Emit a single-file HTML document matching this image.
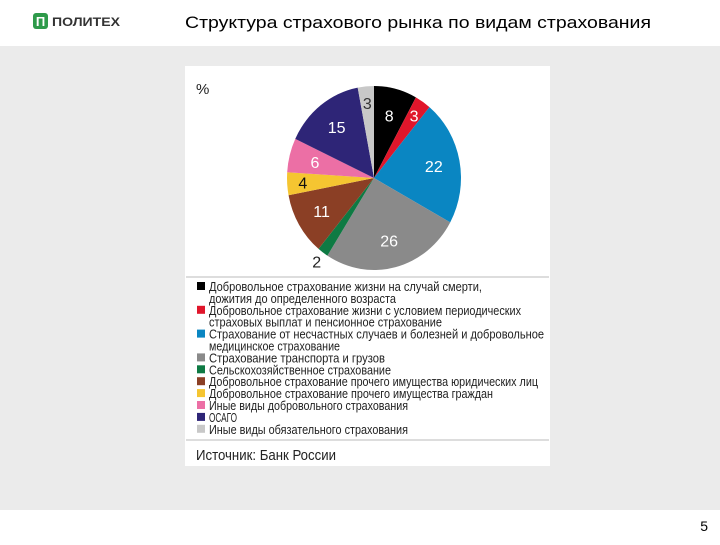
<!DOCTYPE html>
<html><head><meta charset="utf-8"><style>
body{margin:0;width:720px;height:540px;overflow:hidden;background:#fff;font-family:"Liberation Sans",sans-serif}
</style></head><body>
<svg width="720" height="540" xmlns="http://www.w3.org/2000/svg">
<rect x="0" y="0" width="720" height="540" fill="#fff"/>
<rect x="0" y="46" width="720" height="464" fill="#ebebeb"/>
<g>
<rect x="33" y="13" width="15" height="16" rx="3" fill="#2e9a4a"/>
<text x="40.5" y="26" font-size="13" font-weight="bold" fill="#fff" text-anchor="middle">П</text>
<text x="52" y="26" font-size="12" font-weight="bold" fill="#333" textLength="68" lengthAdjust="spacingAndGlyphs">ПОЛИТЕХ</text>
</g>
<text x="185" y="28" font-size="17" fill="#000" textLength="466" lengthAdjust="spacingAndGlyphs">Структура страхового рынка по видам страхования</text>
<text x="708" y="531" font-size="14" fill="#000" text-anchor="end">5</text>
<rect x="185" y="66" width="365" height="400" fill="#fff"/>
<line x1="186" y1="277" x2="549" y2="277" stroke="#ddd" stroke-width="2"/>
<line x1="186" y1="440" x2="549" y2="440" stroke="#ddd" stroke-width="2"/>
<text x="196" y="94" font-size="15" fill="#222">%</text>
<g id="pie"></g>
<g id="legend"></g>
<text x="196" y="460" font-size="15" fill="#222" textLength="140" lengthAdjust="spacingAndGlyphs">Источник: Банк России</text>
</svg>
<script>
const categories=["Добровольное страхование жизни на случай смерти, дожития","Добровольное страхование жизни с условием периодических выплат","Страхование от несчастных случаев и болезней и ДМС","Страхование транспорта и грузов","Сельскохозяйственное страхование","Добровольное страхование имущества юрлиц","Добровольное страхование имущества граждан","Иные виды добровольного страхования","ОСАГО","Иные виды обязательного страхования"];
const values=[8,3,22,26,2,11,4,6,15,3];
const colors=["#000000","#e0162b","#0a86c2","#8a8a8a","#0e7a43","#8b3f25","#f5c531","#ec6fa5","#2e2577","#c8c8c8"];
const labelColors=["#fff","#fff","#fff","#fff","#222","#fff","#111","#fff","#fff","#333"];
const legendLines=[["Добровольное страхование жизни на случай смерти,","дожития до определенного возраста"],["Добровольное страхование жизни с условием периодических","страховых выплат и пенсионное страхование"],["Страхование от несчастных случаев и болезней и добровольное","медицинское страхование"],["Страхование транспорта и грузов"],["Сельскохозяйственное страхование"],["Добровольное страхование прочего имущества юридических лиц"],["Добровольное страхование прочего имущества граждан"],["Иные виды добровольного страхования"],["ОСАГО"],["Иные виды обязательного страхования"]];
const NS="http://www.w3.org/2000/svg";
const pie=document.getElementById('pie'),leg=document.getElementById('legend');
const cx=374,cy=178,rx=87,ry=92;
const total=values.reduce((a,b)=>a+b,0);
function pt(a,f){return [cx+rx*f*Math.sin(a),cy-ry*f*Math.cos(a)];}
let acc=0;
values.forEach((v,i)=>{
 const a0=acc/total*2*Math.PI;acc+=v;const a1=acc/total*2*Math.PI;
 const p0=pt(a0,1),p1=pt(a1,1);
 const p=document.createElementNS(NS,'path');
 p.setAttribute('d',`M${cx},${cy}L${p0[0]},${p0[1]}A${rx},${ry} 0 ${a1-a0>Math.PI?1:0} 1 ${p1[0]},${p1[1]}Z`);
 p.setAttribute('fill',colors[i]);
 
 
 pie.appendChild(p);
 const am=(a0+a1)/2;const f=v<=2?1.12:(v<=4?0.82:0.7);
 const lp=pt(am,f);
 const t=document.createElementNS(NS,'text');
 t.setAttribute('x',lp[0]);t.setAttribute('y',lp[1]+6);
 t.setAttribute('text-anchor','middle');t.setAttribute('font-size','16');
 t.setAttribute('fill',labelColors[i]);
 t.textContent=v;
 
 
 pie.appendChild(t);
});
let y=291;
legendLines.forEach((lines,i)=>{
 const r=document.createElementNS(NS,'rect');
 r.setAttribute('x',197);r.setAttribute('y',y-9);r.setAttribute('width',8);r.setAttribute('height',8);
 r.setAttribute('fill',colors[i]);
 
 
 leg.appendChild(r);
 lines.forEach(s=>{
  const t=document.createElementNS(NS,'text');
  t.setAttribute('x',209);t.setAttribute('y',y);t.setAttribute('font-size','13');t.setAttribute('fill','#222');
  t.setAttribute('textLength',Math.round(s.length*5.68));t.setAttribute('lengthAdjust','spacingAndGlyphs');
  t.textContent=s;
  
  
  leg.appendChild(t);
  y+=11.9;
 });
});
</script>
</body></html>
